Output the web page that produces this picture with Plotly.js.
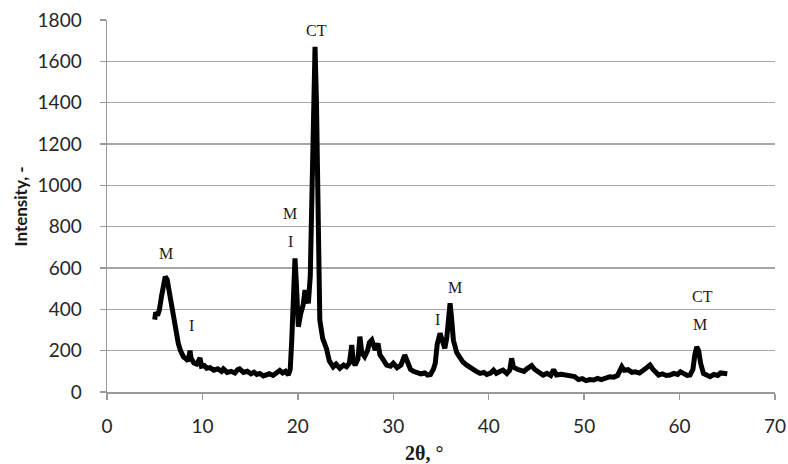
<!DOCTYPE html>
<html>
<head>
<meta charset="utf-8">
<script src="https://cdn.plot.ly/plotly-3.0.1.min.js"></script>
<style>html,body{margin:0;padding:0;background:#fff;}#chart{width:788px;height:464px;}</style>
</head>
<body>
<div id="chart"></div>
<script>
// 2θ values (degrees)
const twoTheta = [
5.0,5.1,5.3,5.5,5.7,5.9,6.1,6.3,6.5,6.7,6.95,7.2,7.47,7.7,8.0,8.3,8.5,8.7,8.8,9.1,9.4,9.75,9.9,10.2,10.45,10.8,11.2,11.6,12.0,12.2,12.6,13.0,13.4,13.7,13.9,14.3,14.7,15.1,15.4,15.7,16.0,16.4,16.7,17.0,17.4,17.8,18.1,18.4,18.7,19.0,19.2,19.36,19.55,19.7,19.85,20.05,20.3,20.55,20.75,20.9,21.1,21.3,21.5,21.65,21.8,21.95,22.1,22.3,22.6,23.0,23.3,23.7,24.0,24.4,24.8,25.1,25.4,25.65,25.8,26.0,26.3,26.5,26.7,27.0,27.3,27.5,27.75,28.0,28.1,28.4,28.6,28.96,29.3,29.7,30.0,30.4,30.8,31.2,31.5,31.8,32.1,32.5,32.9,33.3,33.6,33.9,34.2,34.4,34.6,34.9,35.1,35.4,35.6,35.8,35.95,36.1,36.3,36.65,37.0,37.3,37.7,38.0,38.4,38.7,39.1,39.5,39.8,40.2,40.5,40.8,41.2,41.5,41.9,42.2,42.4,42.6,43.0,43.3,43.7,44.0,44.5,44.8,45.2,45.7,46.1,46.5,46.8,47.1,47.6,48.2,48.6,49.0,49.4,49.8,50.2,50.6,51.0,51.4,51.8,52.2,52.7,53.1,53.5,53.95,54.2,54.6,55.0,55.35,55.8,56.2,56.6,56.9,57.2,57.5,57.8,58.2,58.6,59.0,59.4,59.8,60.1,60.5,60.8,61.1,61.4,61.6,61.8,62.0,62.2,62.5,62.8,63.2,63.6,64.0,64.3,64.6,65.0
];
// Intensity values
const intensity = [
350,385,370,400,460,530,558,545,490,440,397,320,235,200,171,160,150,200,165,140,135,165,125,128,115,118,105,112,100,112,95,100,92,108,112,95,100,88,96,85,90,78,80,88,80,96,104,92,100,82,110,250,500,647,520,316,380,420,493,450,429,560,950,1400,1670,1400,800,348,260,210,150,122,135,115,130,122,140,227,150,130,160,268,190,171,200,240,252,215,203,235,180,155,130,125,139,118,130,179,140,110,100,95,88,92,82,85,110,139,230,284,260,211,260,380,429,360,250,190,165,145,130,120,105,100,90,95,85,92,106,90,100,106,90,105,163,120,110,106,100,112,128,110,95,82,90,80,108,82,86,82,74,75,60,65,55,60,58,66,60,68,74,72,80,122,105,108,95,98,92,105,120,130,110,92,82,88,80,82,90,85,98,88,80,82,110,180,219,200,140,90,80,74,85,80,92,90,88
];
// Phase labels
const labelText = ["M","I","M","I","CT","I","M","CT","M"];
const labelX    = [6.2, 8.9, 19.2, 19.2, 22.0, 34.6, 36.5, 62.4, 62.1];
const labelY    = [672, 320, 866, 730, 1751, 353, 508, 464, 329];
// Axis ticks
const xTicks = [0,10,20,30,40,50,60,70];
const yTicks = [0,200,400,600,800,1000,1200,1400,1600,1800];

const annotations = labelText.map((t,i)=>({
  x: labelX[i], y: labelY[i], xref:'x', yref:'y', text: t, showarrow:false,
  font:{family:'Liberation Serif, Times New Roman, serif', size:16, color:'#1a1a1a'},
  xanchor:'center', yanchor:'middle'
}));
annotations.push({
  xref:'paper', yref:'paper', x:(424-107)/668, y:(392-453)/372, text:'2θ, °', showarrow:false,
  font:{family:'Liberation Serif, Times New Roman, serif', size:20, color:'#1a1a1a', weight:'bold'},
  xanchor:'center', yanchor:'middle'
});
annotations.push({
  xref:'paper', yref:'paper', x:(19.5-107)/668, y:(392-207)/372, text:'<b>Intensity, -</b>', showarrow:false,
  textangle:-90,
  font:{family:'Lato, Open Sans, sans-serif', size:17, color:'#1a1a1a'},
  xanchor:'center', yanchor:'middle'
});

const trace = {
  x: twoTheta, y: intensity, type:'scatter', mode:'lines',
  line:{color:'#000', width:5}, hoverinfo:'skip'
};

const layout = {
  width:788, height:464,
  margin:{l:107, r:13, t:20, b:72, pad:0},
  paper_bgcolor:'#fff', plot_bgcolor:'#fff',
  showlegend:false,
  font:{family:'Lato, Open Sans, sans-serif', size:19, color:'#262626'},
  xaxis:{
    range:[0,70], tickvals:xTicks, ticktext:xTicks.map(String),
    ticks:'outside', ticklen:6, tickwidth:1.5, tickcolor:'#999',
    showline:true, linecolor:'#999', linewidth:1.5,
    showgrid:false, zeroline:false, ticklabelstandoff:11
  },
  yaxis:{
    range:[0,1800], tickvals:yTicks, ticktext:yTicks.map(String),
    ticks:'outside', ticklen:6, tickwidth:1.5, tickcolor:'#999',
    showline:true, linecolor:'#999', linewidth:1.5,
    showgrid:true, gridcolor:'#a6a6a6', gridwidth:1.5,
    zeroline:false, ticklabelstandoff:14
  },
  annotations: annotations
};

Plotly.newPlot('chart', [trace], layout, {displayModeBar:false, staticPlot:true});
</script>
</body>
</html>
